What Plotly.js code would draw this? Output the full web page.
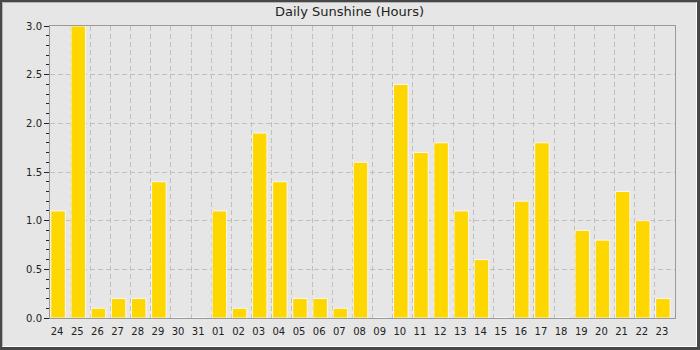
<!DOCTYPE html>
<html>
<head>
<meta charset="utf-8">
<script src="https://cdn.plot.ly/plotly-3.0.1.min.js"></script>
<style>
  html, body { margin: 0; padding: 0; background: #ffffff; }
  #frame { position: relative; width: 700px; height: 350px; background: #474747; overflow: hidden; }
  #inner { position: absolute; left: 2px; top: 2px; width: 695px; height: 345px; box-sizing: border-box;
           border-top: 1px solid #b4b4b4; border-left: 1px solid #b4b4b4;
           border-right: 1px solid #ffffff; border-bottom: 1px solid #ffffff; background: #e6e6e6; }
  #chart { width: 693px; height: 343px; }
</style>
</head>
<body>
<div id="frame"><div id="inner"><div id="chart"></div></div></div>
<script>
const days = ["24","25","26","27","28","29","30","31","01","02","03","04","05","06","07","08",
              "09","10","11","12","13","14","15","16","17","18","19","20","21","22","23"];
const sunshineHours = [1.1, 3.0, 0.1, 0.2, 0.2, 1.4, 0, 0, 1.1, 0.1, 1.9, 1.4, 0.2, 0.2, 0.1, 1.6,
                       0, 2.4, 1.7, 1.8, 1.1, 0.6, 0, 1.2, 1.8, 0, 0.9, 0.8, 1.3, 1.0, 0.2];
const yTickVals = [0, 0.5, 1.0, 1.5, 2.0, 2.5, 3.0];
const yTickText = ["0.0", "0.5", "1.0", "1.5", "2.0", "2.5", "3.0"];

const trace = {
  type: "bar",
  x: days,
  y: sunshineHours,
  width: 0.72,
  offset: -0.46,
  marker: { color: "#ffd700", line: { color: "rgba(250,250,255,0.9)", width: 1 } },
  hoverinfo: "x+y"
};

const layout = {
  width: 693, height: 343,
  paper_bgcolor: "#e6e6e6",
  plot_bgcolor: "#e6e6e6",
  margin: { l: 47, r: 21, t: 23, b: 28, pad: 0 },
  font: { family: "DejaVu Sans, sans-serif", size: 10, color: "#222222" },
  title: {
    text: "Daily Sunshine (Hours)",
    font: { family: "DejaVu Sans, sans-serif", size: 13, color: "#222222" },
    x: 0.5, xref: "container", xanchor: "center",
    y: 0.974, yref: "container", yanchor: "middle"
  },
  showlegend: false,
  bargap: 0,
  xaxis: {
    type: "category",
    categoryorder: "array",
    categoryarray: days,
    range: [-0.5, days.length - 0.5],
    tickson: "boundaries",
    ticks: "",
    tickangle: 0,
    showgrid: true,
    gridcolor: "#c0c0c0",
    gridwidth: 1,
    griddash: "5px,3px",
    showline: true,
    linecolor: "#9a9a9a",
    linewidth: 1,
    mirror: true,
    zeroline: false,
    ticklabelshift: -3,
    ticklabelstandoff: 4,
    tickfont: { size: 10, color: "#222222" },
    fixedrange: true
  },
  yaxis: {
    range: [0, 3],
    tickvals: yTickVals,
    ticktext: yTickText,
    ticks: "outside",
    ticklen: 5,
    tickwidth: 1,
    tickcolor: "#222222",
    minor: { dtick: 0.1, ticks: "outside", ticklen: 3, tickwidth: 1, tickcolor: "#222222", showgrid: false },
    showgrid: true,
    gridcolor: "#c0c0c0",
    gridwidth: 1,
    griddash: "5px,3px",
    showline: true,
    linecolor: "#9a9a9a",
    linewidth: 1,
    mirror: true,
    zeroline: false,
    tickfont: { size: 10, color: "#222222" },
    fixedrange: true
  }
};

Plotly.newPlot("chart", [trace], layout, { displayModeBar: false, staticPlot: true });
</script>
</body>
</html>
